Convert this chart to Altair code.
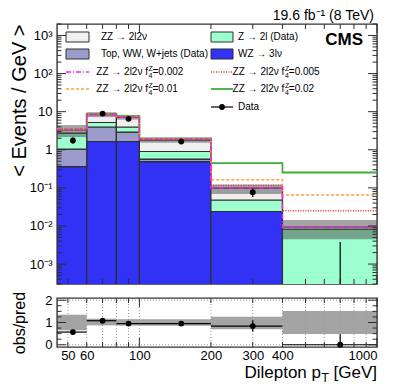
import altair as alt
import pandas as pd

FONT = "Liberation Sans"

# ---------------- data ----------------
edges = [45, 60, 80, 100, 200, 400, 1000]
centers = [52.5, 70, 90, 150, 300, 700]

# stacked backgrounds (events / GeV, per-bin contributions)
wz = [0.36, 1.65, 1.65, 0.49, 0.024, 0.0]
top_ww = [0.68, 2.31, 1.25, 0.08, 0.0, 0.0]
z_ll = [1.71, 1.24, 1.06, 0.33, 0.024, 0.0082]
zz = [0.55, 3.10, 3.24, 0.90, 0.050, 0.0012]

# relative uncertainty band on the total prediction
band_lo = [0.65, 0.87, 0.86, 0.85, 0.70, 0.48]
band_hi = [1.35, 1.17, 1.15, 1.15, 1.26, 1.52]

# anomalous coupling predictions
f4_002 = [3.35, 8.4, 7.3, 1.88, 0.100, 0.0092]
f4_005 = [3.40, 8.5, 7.4, 1.92, 0.115, 0.025]
f4_010 = [3.45, 8.6, 7.5, 1.96, 0.163, 0.065]
f4_020 = [3.50, 8.7, 7.6, 2.00, 0.447, 0.253]

# data
data_val = [1.76, 8.9, 6.5, 1.65, 0.077, 0.0]
data_lo = [1.43, 8.25, 5.95, 1.52, 0.058, 0.0]
data_hi = [2.10, 9.6, 7.10, 1.78, 0.097, 0.0038]

# ratio panel
ratio_val = [0.57, 1.08, 0.95, 0.95, 0.84, 0.0]
ratio_lo = [0.46, 0.98, 0.86, 0.88, 0.60, 0.0]
ratio_hi = [0.68, 1.18, 1.04, 1.02, 1.10, 0.47]

y_major = [1e-3, 1e-2, 1e-1, 1, 10, 100, 1000]
x_labels = [50, 60, 100, 200, 300, 400, 1000]
x_minor = [50, 60, 70, 80, 90, 200, 300, 400, 500, 600, 700, 800, 900]
x_major = [100, 1000]
x_grid = [50, 60, 70, 80, 90, 100, 200, 300, 400, 500, 600, 700, 800, 900]

# ---------------- layout ----------------
W, H, HR = 320, 260, 49
TINY = 1e-6
xs = alt.Scale(type="log", domain=[45, 1000], nice=False)
ys = alt.Scale(type="log", domain=[3e-4, 2e3], nice=False)
rs = alt.Scale(domain=[-0.1, 2.1], nice=False, zero=False)
DARK = "#2e2e2e"
HATCH = "#4a4a4a"
HATCH_OP = 0.5
LEG = 10
one = pd.DataFrame({"a": [0]})

ylabel_expr = ("datum.value == 1 ? '1' : datum.value == 10 ? '10' : datum.value == 100 ? '10\u00b2' : "
               "datum.value == 1000 ? '10\u00b3' : datum.value < 0.002 ? '10\u207b\u00b3' : "
               "datum.value < 0.02 ? '10\u207b\u00b2' : '10\u207b\u00b9'")

Y_MAIN_AXIS = alt.Axis(
    values=y_major, labelExpr=ylabel_expr, ticks=False, domain=False, grid=False,
    labelFont=FONT, labelFontSize=13, labelPadding=5, labelColor="black",
    title="< Events / GeV >", titleFont=FONT, titleFontSize=20, titleFontWeight="normal",
    titleColor="black", titleAnchor="end", titleX=-38, titleBaseline="middle")
X_RATIO_AXIS = alt.Axis(
    values=x_labels, format="d", ticks=False, domain=False, grid=False, labelFont=FONT,
    labelFontSize=13, labelPadding=2, labelColor="black", labelFlush=1, labelOverlap=False,
    title=None)
Y_RATIO_AXIS = alt.Axis(
    values=[0, 1, 2], ticks=False, domain=False, grid=False, labelFont=FONT,
    labelFontSize=13, labelPadding=5, labelColor="black",
    title="obs/pred", titleFont=FONT, titleFontSize=16, titleFontWeight="normal",
    titleColor="black", titleX=-38, titleBaseline="middle")


def txt(s, x, y, size=LEG, align="left", baseline="middle", weight="normal"):
    return alt.Chart(one).mark_text(
        text=s, align=align, baseline=baseline, fontSize=size, font=FONT,
        fontWeight=weight, color="black"
    ).encode(x=alt.value(x), y=alt.value(y))


def box(x1, x2, yc, fill):
    return alt.Chart(one).mark_rect(fill=fill, stroke=DARK, strokeWidth=1).encode(
        x=alt.value(x1), x2=alt.value(x2), y=alt.value(yc - 5), y2=alt.value(yc + 5))


def lline(x1, x2, yc, color, dash=None, width=1.5):
    kw = dict(color=color, strokeWidth=width)
    if dash:
        kw["strokeDash"] = dash
    return alt.Chart(one).mark_rule(**kw).encode(
        x=alt.value(x1), x2=alt.value(x2), y=alt.value(yc))


def yticks(vals, scale, axis, length, width):
    df = pd.DataFrame({"v": vals})
    base = alt.Chart(df).mark_rule(color=DARK, strokeWidth=1)
    left = base.encode(y=alt.Y("v:Q", scale=scale, axis=axis), x=alt.value(0), x2=alt.value(length))
    right = base.encode(y=alt.Y("v:Q", scale=scale, axis=axis), x=alt.value(width), x2=alt.value(width - length))
    return [left, right]


def xticks(vals, axis, length, height):
    df = pd.DataFrame({"v": vals})
    base = alt.Chart(df).mark_rule(color=DARK, strokeWidth=1)
    bot = base.encode(x=alt.X("v:Q", scale=xs, axis=axis), y=alt.value(height), y2=alt.value(height - length))
    top = base.encode(x=alt.X("v:Q", scale=xs, axis=axis), y=alt.value(0), y2=alt.value(length))
    return [bot, top]


# ---------------- main panel ----------------
comps = [(wz, "#3232f5"), (top_ww, "#9c9ccc"), (z_ll, "#9dffcf"), (zz, "#f0f0f0")]
rows = []
cum = [TINY] * 6
for vals, col in comps:
    for i in range(6):
        if vals[i] > 0:
            rows.append(dict(x1=edges[i], x2=edges[i + 1], lo=cum[i], hi=cum[i] + vals[i], c=col))
        cum[i] += vals[i]
stack_df = pd.DataFrame(rows)
total = [c - TINY for c in cum]

bars = alt.Chart(stack_df).mark_rect(stroke=DARK, strokeWidth=1.2, clip=True).encode(
    x=alt.X("x1:Q", scale=xs, axis=None), x2="x2:Q",
    y=alt.Y("hi:Q", scale=ys, axis=Y_MAIN_AXIS), y2="lo:Q",
    color=alt.Color("c:N", scale=None),
)

band_df = pd.DataFrame({
    "x1": edges[:-1], "x2": edges[1:],
    "lo": [t * l for t, l in zip(total, band_lo)],
    "hi": [t * h for t, h in zip(total, band_hi)],
})
band = alt.Chart(band_df).mark_rect(fill=HATCH, fillOpacity=HATCH_OP, clip=True).encode(
    x=alt.X("x1:Q", scale=xs, axis=None), x2="x2:Q",
    y=alt.Y("hi:Q", scale=ys, axis=Y_MAIN_AXIS), y2="lo:Q")


def step(vals, color, dash=None, width=1.5):
    df = pd.DataFrame({"x": edges, "y": vals + [vals[-1]]})
    kw = dict(color=color, strokeWidth=width, interpolate="step-after", clip=True)
    if dash:
        kw["strokeDash"] = dash
    return alt.Chart(df).mark_line(**kw).encode(
        x=alt.X("x:Q", scale=xs, axis=None), y=alt.Y("y:Q", scale=ys, axis=Y_MAIN_AXIS))


l_020 = step(f4_020, "#3cae3c", None, 1.8)
l_010 = step(f4_010, "#ffa040", [3, 2])
l_005 = step(f4_005, "#e8302c", [1, 1.5])
l_002 = step(f4_002, "#ee22ee", [5, 2, 1, 2])

dmain = pd.DataFrame({"x": centers, "v": data_val,
                      "lo": [max(v, TINY) for v in data_lo], "hi": data_hi})
derr = alt.Chart(dmain).mark_rule(color="black", strokeWidth=1.2, clip=True).encode(
    x=alt.X("x:Q", scale=xs, axis=None), y=alt.Y("lo:Q", scale=ys, axis=Y_MAIN_AXIS), y2="hi:Q")
dpts = alt.Chart(dmain[dmain["v"] > 0]).mark_point(
    filled=True, color="black", size=34, opacity=1, shape="circle").encode(
    x=alt.X("x:Q", scale=xs, axis=None), y=alt.Y("v:Q", scale=ys, axis=Y_MAIN_AXIS))

y_minor = [k * 10.0 ** e for e in range(-4, 4) for k in range(2, 10) if 3e-4 <= k * 10.0 ** e <= 2e3]
main_ticks = (yticks(y_major, ys, Y_MAIN_AXIS, 9, W) + yticks(y_minor, ys, Y_MAIN_AXIS, 4.5, W)
              + xticks(x_major, None, 9, H) + xticks(x_minor, None, 5, H))

# legend (pixel positions inside the plot area)
r1, r2, r3, r4, r5 = 13, 30, 48, 65, 83
c1b, c1e, c1t = 9, 32, 44
c2b, c2e, c2t = 154, 176, 181
legend = [
    box(c1b, c1e, r1, "#f0f0f0"), txt("ZZ \u2192 2l2\u03bd", c1t, r1),
    box(c1b, c1e, r2, "#9c9ccc"), txt("Top, WW, W+jets (Data)", c1t, r2),
    lline(c1b, c1e, r3, "#ee22ee", [5, 2, 1, 2]),
    txt("ZZ \u2192 2l2\u03bd f", 91, r3, align="right"), txt("Z", 91.6, r3 - 3.5, size=7),
    txt("4", 91.6, r3 + 4, size=7), txt("=0.002", 95.5, r3),
    lline(c1b, c1e, r4, "#ffa040", [3, 2]),
    txt("ZZ \u2192 2l2\u03bd f", 91, r4, align="right"), txt("Z", 91.6, r4 - 3.5, size=7),
    txt("4", 91.6, r4 + 4, size=7), txt("=0.01", 95.5, r4),
    box(c2b, c2e, r1, "#9dffcf"), txt("Z \u2192 2l (Data)", c2t, r1),
    box(c2b, c2e, r2, "#3232f5"), txt("WZ \u2192 3l\u03bd", c2t, r2),
    lline(c2b, c2e, r3, "#e8302c", [1, 1.5]),
    txt("ZZ \u2192 2l2\u03bd f", 227.3, r3, align="right"), txt("Z", 227.9, r3 - 3.5, size=7),
    txt("4", 227.9, r3 + 4, size=7), txt("=0.005", 231.8, r3),
    lline(c2b, c2e, r4, "#3cae3c", None, 1.8),
    txt("ZZ \u2192 2l2\u03bd f", 227.3, r4, align="right"), txt("Z", 227.9, r4 - 3.5, size=7),
    txt("4", 227.9, r4 + 4, size=7), txt("=0.02", 231.8, r4),
    lline(c2b, c2e, r5, "black", None, 1.2),
    alt.Chart(one).mark_point(filled=True, color="black", size=34, opacity=1).encode(
        x=alt.value((c2b + c2e) / 2), y=alt.value(r5)),
    txt("Data", c2t, r5),
    txt("CMS", 306, 21, size=17, align="right", baseline="alphabetic", weight="bold"),
    txt("19.6 fb\u207b\u00b9 (8 TeV)", 317, -4, size=14, align="right", baseline="alphabetic"),
]

main = alt.layer(bars, band, l_020, l_010, l_005, l_002, derr, dpts,
                 *main_ticks, *legend).properties(width=W, height=H)

# ---------------- ratio panel ----------------
rdf = pd.DataFrame({"x": centers, "x1": edges[:-1], "x2": edges[1:], "v": ratio_val,
                    "lo": ratio_lo, "hi": ratio_hi, "blo": band_lo, "bhi": band_hi})

rband = alt.Chart(rdf).mark_rect(fill=HATCH, fillOpacity=HATCH_OP).encode(
    x=alt.X("x1:Q", scale=xs, axis=X_RATIO_AXIS), x2="x2:Q",
    y=alt.Y("bhi:Q", scale=rs, axis=Y_RATIO_AXIS), y2="blo:Q")

grid_df = pd.DataFrame({"v": x_grid})
vgrid = alt.Chart(grid_df).mark_rule(color="#9a9a9a", strokeDash=[1, 2], strokeWidth=1).encode(
    x=alt.X("v:Q", scale=xs, axis=X_RATIO_AXIS), y=alt.value(0), y2=alt.value(HR))
hgrid = alt.Chart(pd.DataFrame({"v": [0, 2]})).mark_rule(
    color="#9a9a9a", strokeDash=[1, 2], strokeWidth=1).encode(
    y=alt.Y("v:Q", scale=rs, axis=Y_RATIO_AXIS), x=alt.value(0), x2=alt.value(W))

rxerr = alt.Chart(rdf).mark_rule(color="black", strokeWidth=1.2).encode(
    x=alt.X("x1:Q", scale=xs, axis=X_RATIO_AXIS), x2="x2:Q",
    y=alt.Y("v:Q", scale=rs, axis=Y_RATIO_AXIS))
ryerr = alt.Chart(rdf).mark_rule(color="black", strokeWidth=1.2).encode(
    x=alt.X("x:Q", scale=xs, axis=X_RATIO_AXIS),
    y=alt.Y("lo:Q", scale=rs, axis=Y_RATIO_AXIS), y2="hi:Q")
rpts = alt.Chart(rdf).mark_point(filled=True, color="black", size=34, opacity=1).encode(
    x=alt.X("x:Q", scale=xs, axis=X_RATIO_AXIS), y=alt.Y("v:Q", scale=rs, axis=Y_RATIO_AXIS))

r_ticks = (yticks([0, 1, 2], rs, Y_RATIO_AXIS, 9, W)
           + yticks([0.25, 0.5, 0.75, 1.25, 1.5, 1.75], rs, Y_RATIO_AXIS, 4.5, W)
           + xticks(x_major, X_RATIO_AXIS, 9, HR) + xticks(x_minor, X_RATIO_AXIS, 5, HR))

xtitle = [
    txt("[GeV]", 320, 80, size=17, align="right", baseline="alphabetic"),
    txt("T", 264.5, 84, size=12, align="left", baseline="alphabetic"),
    txt("Dilepton p", 264, 80, size=17, align="right", baseline="alphabetic"),
]

ratio = alt.layer(rband, vgrid, hgrid, rxerr, ryerr, rpts, *r_ticks, *xtitle).properties(
    width=W, height=HR)

chart = alt.vconcat(main, ratio, spacing=4).properties(
    padding={"left": 0, "top": 0, "right": 0, "bottom": 0}
).configure_view(stroke="#333333", strokeWidth=1.4)

chart.save("out.html", embed_options={"renderer": "svg", "actions": False})
